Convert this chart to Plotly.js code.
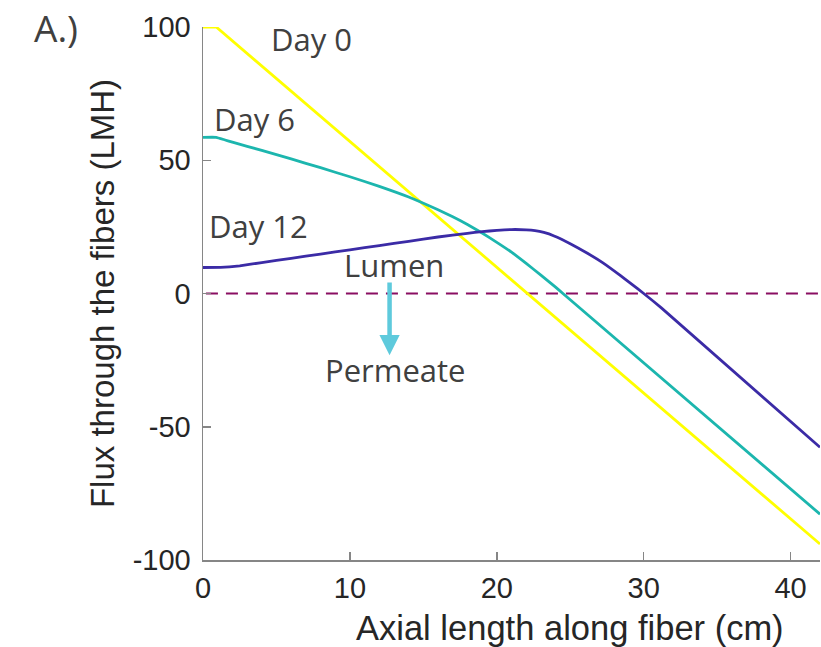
<!DOCTYPE html>
<html>
<head>
<meta charset="utf-8">
<script src="https://cdn.plot.ly/plotly-3.0.1.min.js"></script>
<style>html,body{margin:0;padding:0;background:#fff;overflow:hidden;}#chart{width:821px;height:647px;}</style>
</head>
<body>
<div id="chart"></div>
<script>
// Axial position (cm) and flux (LMH) for each day
const day0X = [0, 0.9, 42];
const day0Y = [100, 100, -94];

const day6X = [0, 0.9, 1.5, 2, 4, 6, 8, 10, 12, 14, 16, 17, 18, 19, 20, 21, 22, 23, 24, 24.5, 42];
const day6Y = [58.6, 58.6, 57.6, 56.8, 53.7, 50.5, 47.2, 43.8, 40.2, 36.2, 31.4, 28.8, 25.9, 22.7, 19.2, 15.5, 11.3, 6.9, 2.4, 0, -82.8];

const day12X = [0, 1.2, 1.8, 2.5, 4, 6, 8, 10, 12, 14, 16, 18, 19, 20, 21, 22, 22.6, 23.2, 23.9, 25, 26.2, 27.2, 28.4, 29.2, 30, 31.2, 42];
const day12Y = [9.75, 9.8, 10.0, 10.4, 11.6, 13.2, 14.8, 16.4, 18.0, 19.6, 21.2, 22.6, 23.2, 23.7, 24.0, 23.9, 23.6, 22.9, 21.6, 18.7, 15.0, 11.6, 6.8, 3.4, 0, -5.4, -57.7];

const zeroX = [0.2, 42];
const zeroY = [0, 0];

const xTicks = [0, 10, 20, 30, 40];
const yTicks = [-100, -50, 0, 50, 100];

const traces = [
  {x: zeroX, y: zeroY, mode: 'lines', line: {color: '#8a0e62', width: 2.2, dash: '12px,8px'}, hoverinfo: 'skip'},
  {x: day0X, y: day0Y, mode: 'lines', name: 'Day 0', line: {color: '#ffff00', width: 2.8}},
  {x: day6X, y: day6Y, mode: 'lines', name: 'Day 6', line: {color: '#1cb6ae', width: 2.8, shape: 'spline', smoothing: 0.3}},
  {x: day12X, y: day12Y, mode: 'lines', name: 'Day 12', line: {color: '#3b2ba6', width: 2.8, shape: 'spline', smoothing: 0.4}}
];

const annFont = {family: '"Open Sans", "Noto Sans", sans-serif', size: 31, color: '#404040'};
const titleFont = {family: '"Liberation Sans", Arial, sans-serif', color: '#262626'};

const layout = {
  width: 821, height: 647,
  margin: {l: 203, r: 1, t: 27, b: 87},
  paper_bgcolor: '#ffffff', plot_bgcolor: '#ffffff',
  showlegend: false,
  font: {family: '"Liberation Sans", Arial, sans-serif', color: '#262626'},
  xaxis: {
    range: [0, 42], tickvals: xTicks, ticktext: xTicks.map(String),
    showgrid: false, zeroline: false, showline: true, linecolor: '#868686', linewidth: 1.5,
    ticks: 'inside', ticklen: 8, tickcolor: '#868686', tickwidth: 1.5,
    tickfont: {size: 29, color: '#262626'}, ticklabelstandoff: 2
  },
  yaxis: {
    range: [-100, 100], tickvals: yTicks, ticktext: yTicks.map(String),
    showgrid: false, zeroline: false, showline: true, linecolor: '#868686', linewidth: 1.5,
    ticks: 'inside', ticklen: 8, tickcolor: '#868686', tickwidth: 1.5,
    tickfont: {size: 29, color: '#262626'}, ticklabelstandoff: 5,
    title: {text: 'Flux through the fibers (LMH)', font: Object.assign({size: 33}, titleFont), standoff: 8}
  },
  annotations: [
    {text: 'Axial length along fiber (cm)', xref: 'paper', yref: 'paper', x: (570 - 203) / 617, y: -(628 - 560) / 533,
     xanchor: 'center', yanchor: 'middle', showarrow: false, font: Object.assign({size: 34.5}, titleFont)},
    {text: 'A.)', xref: 'paper', yref: 'paper', x: (56 - 203) / 617, y: (560 - 27) / 533, xanchor: 'center', yanchor: 'middle', showarrow: false,
     borderpad: 0, font: {family: '"Open Sans", sans-serif', size: 37, color: '#404040'}},
    {text: 'Day 0', x: 7.4, y: 95.5, showarrow: false, font: annFont},
    {text: 'Day 6', x: 3.5, y: 65.5, showarrow: false, font: annFont},
    {text: 'Day 12', x: 3.8, y: 25.5, showarrow: false, font: annFont},
    {text: 'Lumen', x: 13.0, y: 10.8, showarrow: false, font: annFont},
    {text: 'Permeate', x: 13.1, y: -28.8, showarrow: false, font: annFont},
    {x: 12.7, y: -23.2, ax: 12.7, ay: 4.7, axref: 'x', ayref: 'y', text: '', showarrow: true,
     arrowhead: 2, arrowsize: 0.9, arrowwidth: 4.5, arrowcolor: '#5ecadc'}
  ]
};

Plotly.newPlot('chart', traces, layout, {displayModeBar: false, staticPlot: true});
</script>
</body>
</html>
